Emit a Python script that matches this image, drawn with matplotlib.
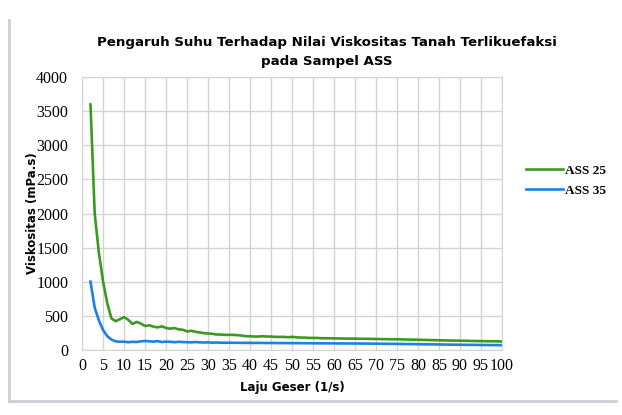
import matplotlib
matplotlib.use("Agg")
import matplotlib.pyplot as plt
from matplotlib.lines import Line2D

# shear rate (1/s), one reading per step
shear_rate = list(range(2, 101))

# viscosity (mPa.s)
ass25 = [3600, 2000, 1420, 1000, 680, 460, 420, 450, 480, 440,
         380, 410, 385, 350, 360, 340, 330, 345, 320, 310,
         320, 300, 295, 270, 280, 265, 255, 245, 240, 235,
         225, 225, 220, 220, 220, 215, 210, 200, 200, 195,
         195, 200, 195, 195, 190, 190, 190, 185, 190, 185,
         180, 180, 175, 175, 175, 170, 170, 170, 168, 167,
         166, 165, 165, 164, 163, 162, 162, 160, 160, 158,
         157, 156, 155, 155, 154, 152, 150, 150, 148, 146,
         145, 143, 142, 140, 139, 138, 136, 135, 134, 133,
         132, 130, 129, 128, 127, 126, 125, 124, 123]
ass35 = [1000, 620, 430, 290, 200, 150, 125, 118, 120, 112,
         118, 115, 125, 130, 125, 120, 128, 115, 120, 118,
         112, 118, 115, 112, 110, 115, 110, 108, 110, 105,
         108, 105, 104, 105, 103, 104, 102, 103, 102, 101,
         102, 101, 100, 101, 100, 99, 100, 99, 98, 99,
         98, 97, 97, 96, 96, 96, 95, 95, 95, 94,
         94, 94, 93, 93, 93, 92, 92, 91, 91, 90,
         89, 88, 88, 87, 86, 85, 85, 84, 83, 82,
         81, 80, 80, 79, 78, 77, 76, 76, 75, 74,
         73, 73, 72, 71, 71, 70, 70, 69, 68]

x_ticks = list(range(0, 101, 5))
y_ticks = list(range(0, 4001, 500))

fig = plt.figure(figsize=(6.22, 4.15), dpi=100)
ax = fig.add_axes([0.132, 0.157, 0.675, 0.657])

ax.plot(shear_rate, ass25, color="#3a9a1e", lw=1.9, label="ASS 25")
ax.plot(shear_rate, ass35, color="#1e7fe8", lw=1.9, label="ASS 35")

ax.set_xlim(0, 100)
ax.set_ylim(0, 4000)
ax.set_xticks(x_ticks)
ax.set_yticks(y_ticks)
ax.grid(True, color="#d4d4d4", lw=1)
ax.set_axisbelow(True)
ax.tick_params(axis="y", length=0, pad=10)
ax.tick_params(axis="x", length=0, pad=6)
for lab in ax.get_xticklabels() + ax.get_yticklabels():
    lab.set_family("Liberation Serif")
    lab.set_fontsize(11.5)
for s in ax.spines.values():
    s.set_color("#d4d4d4")

ax.set_xlabel("Laju Geser (1/s)", fontsize=8.5, fontweight="bold", labelpad=5)
ax.set_ylabel("Viskositas (mPa.s)", fontsize=8.5, fontweight="bold", labelpad=-2)

fig.text(0.525, 0.897, "Pengaruh Suhu Terhadap Nilai Viskositas Tanah Terlikuefaksi",
         ha="center", va="center", fontsize=9.6, fontweight="bold")
fig.text(0.525, 0.853, "pada Sampel ASS", ha="center", va="center",
         fontsize=9.6, fontweight="bold")

leg = ax.legend(loc="center left", bbox_to_anchor=(1.03, 0.62), frameon=False,
                prop={"family": "Liberation Serif", "size": 9.5, "weight": "bold"},
                handlelength=2.8, handletextpad=0.1, labelspacing=0.6)

# chart-area border (left and bottom only, as in the source)
border = "#c9ced8"
fig.add_artist(Line2D([0.0145, 0.0145], [0.952, 0.034], color=border, lw=2,
                      transform=fig.transFigure))
fig.add_artist(Line2D([0.0145, 0.990], [0.034, 0.034], color=border, lw=2,
                      transform=fig.transFigure))

fig.savefig("out.png", dpi=100)
